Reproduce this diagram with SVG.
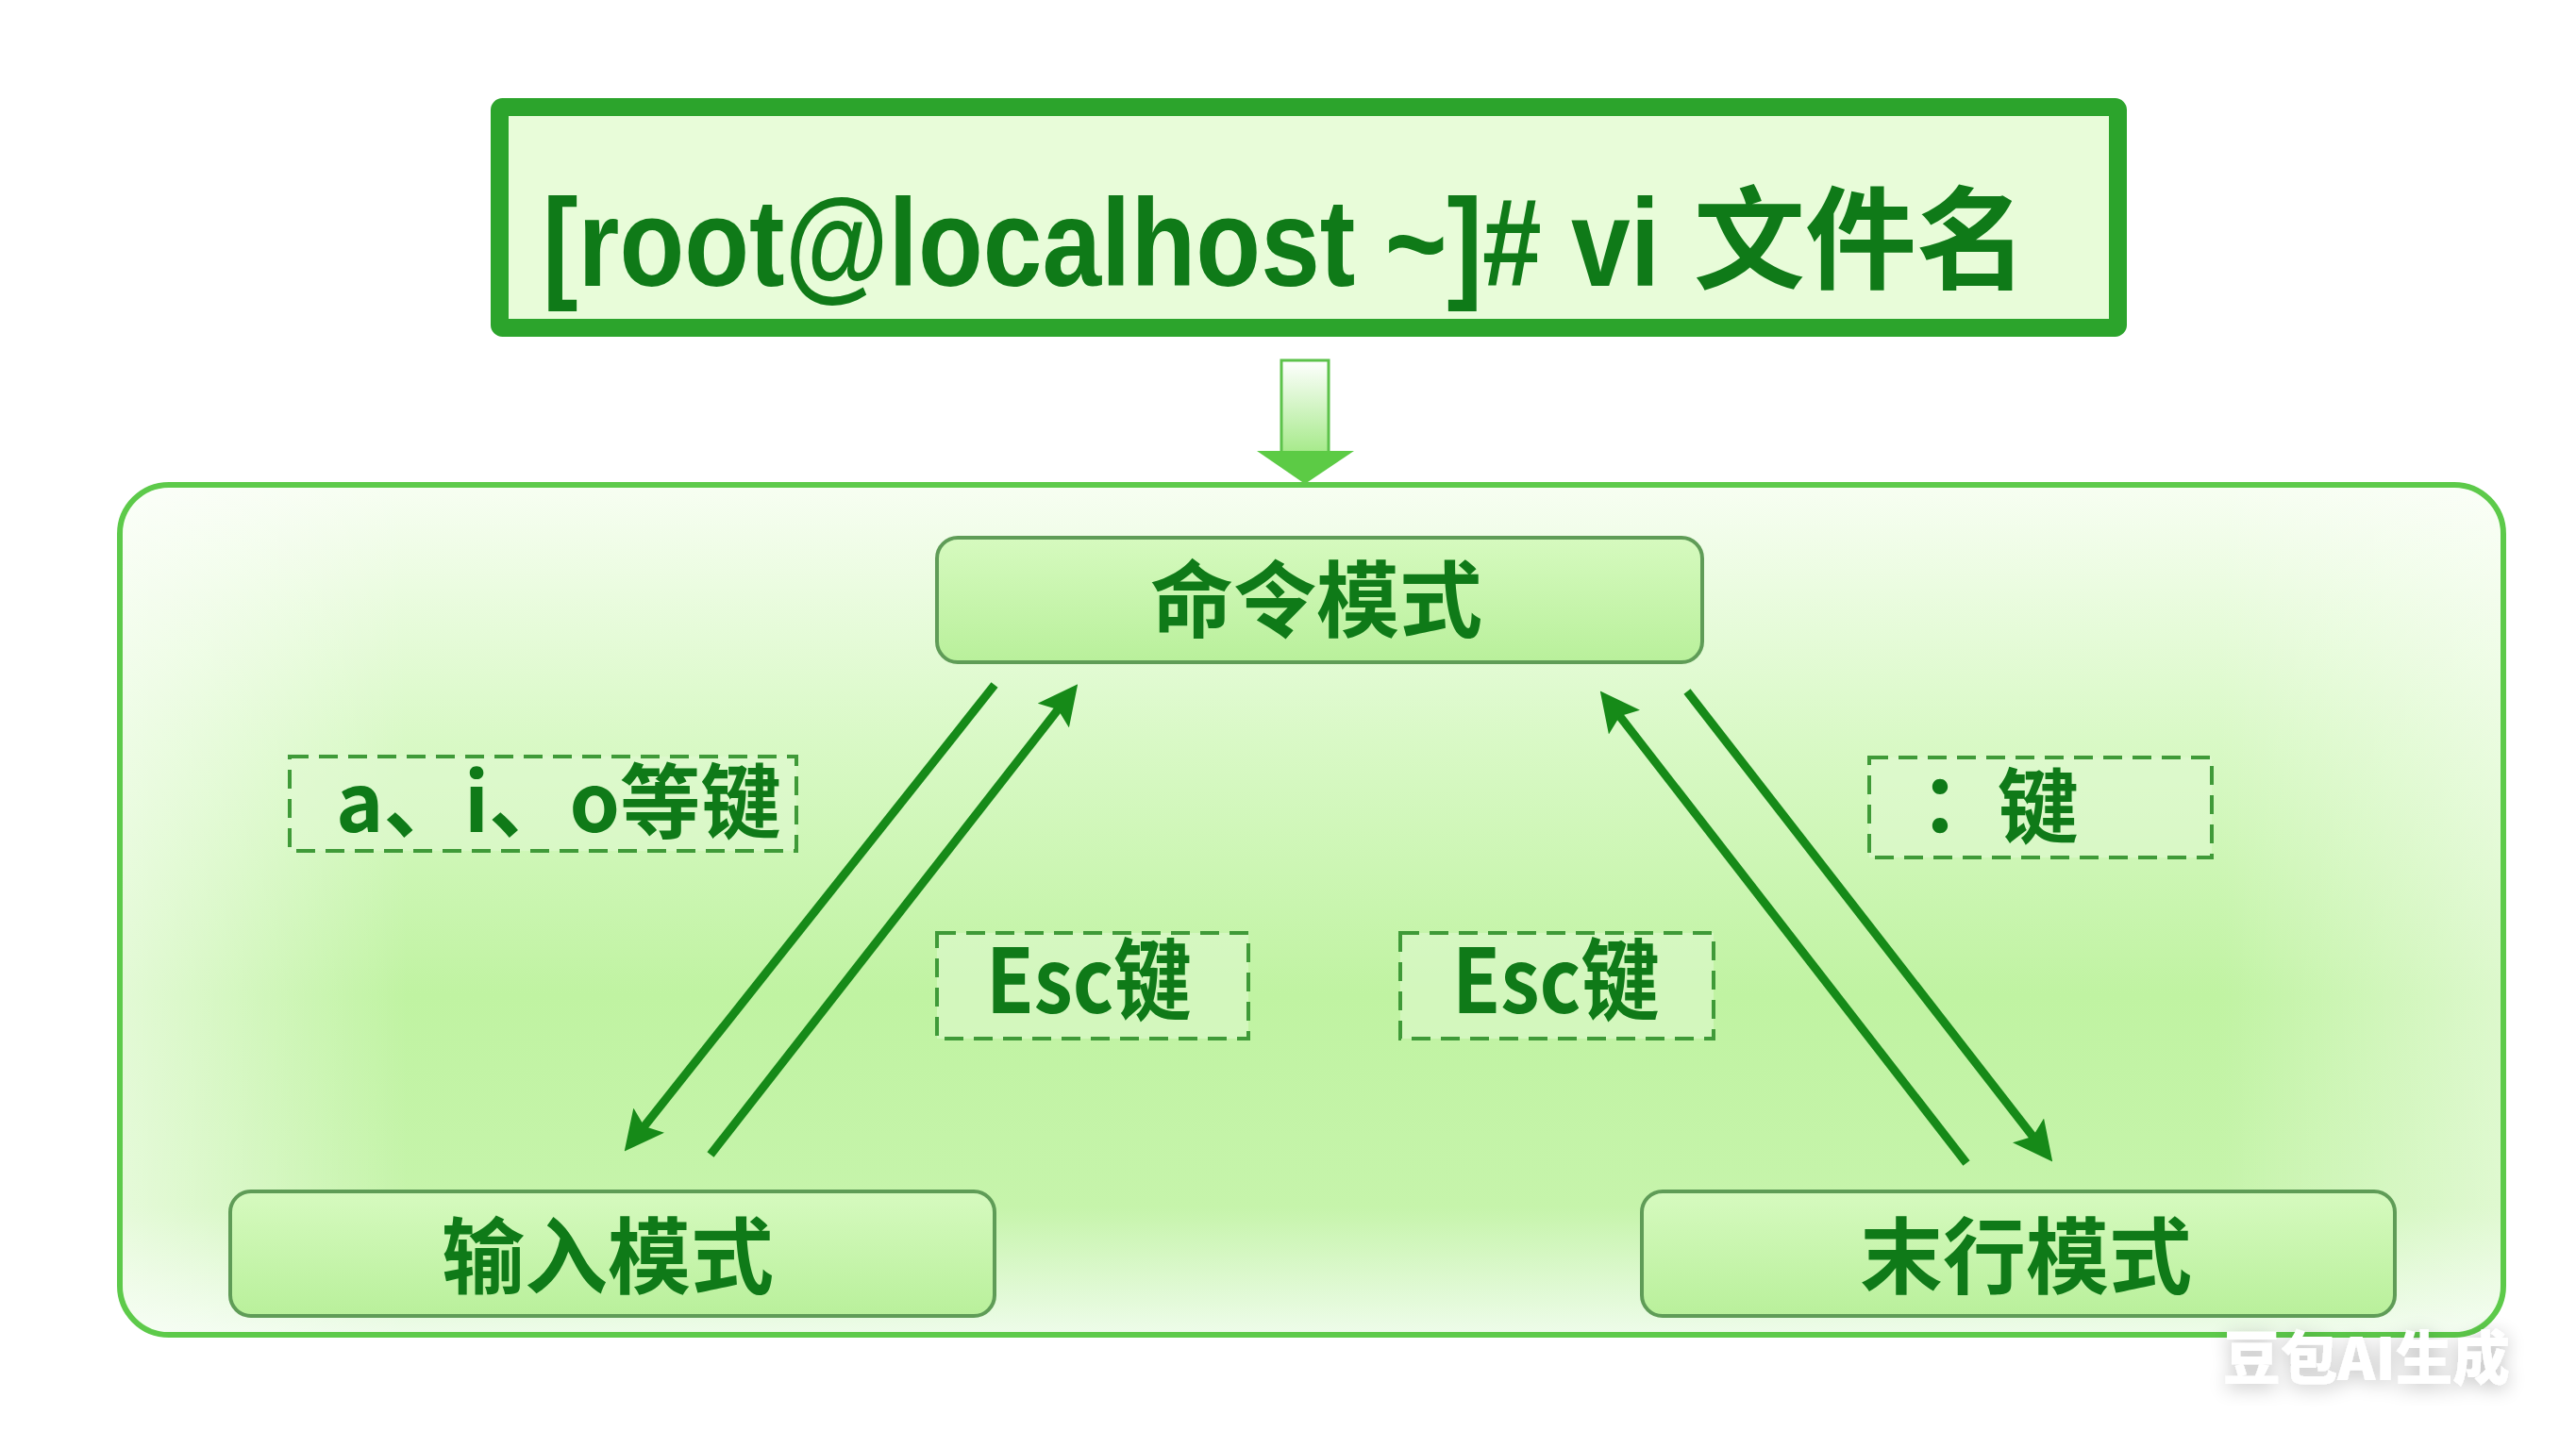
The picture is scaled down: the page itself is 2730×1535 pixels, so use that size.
<svg xmlns="http://www.w3.org/2000/svg" width="2730" height="1535" viewBox="0 0 2730 1535">
<style>
.cjk{font-family:"Noto Sans CJK SC","Noto Sans",sans-serif;font-weight:700;fill:#0f7a18}
.node rect{stroke:#5f9c57;stroke-width:4;fill:url(#nodeFill)}
.lbl rect{stroke:#3f9a38;stroke-width:4;stroke-dasharray:20 11;fill:#e2fad3;fill-opacity:0.55}
.conn line{stroke:#168a18;stroke-width:9;marker-end:url(#ah)}
</style>
<defs>
<linearGradient id="bigFill" x1="0" y1="0" x2="0" y2="1">
<stop offset="0" stop-color="#f7fef2"/>
<stop offset="0.3" stop-color="#d9f9c6"/>
<stop offset="0.6" stop-color="#c0f3a2"/>
<stop offset="0.85" stop-color="#c6f4ab"/>
<stop offset="1" stop-color="#eefcea"/>
</linearGradient>
<linearGradient id="sideFade" x1="0" y1="0" x2="1" y2="0">
<stop offset="0" stop-color="#ffffff" stop-opacity="0.55"/>
<stop offset="0.12" stop-color="#ffffff" stop-opacity="0"/>
<stop offset="0.88" stop-color="#ffffff" stop-opacity="0"/>
<stop offset="1" stop-color="#ffffff" stop-opacity="0.45"/>
</linearGradient>
<linearGradient id="nodeFill" x1="0" y1="0" x2="0" y2="1">
<stop offset="0" stop-color="#d6fabf"/>
<stop offset="1" stop-color="#b9f09b"/>
</linearGradient>
<linearGradient id="shaft" x1="0" y1="0" x2="0" y2="1">
<stop offset="0" stop-color="#ffffff"/>
<stop offset="1" stop-color="#a6ea8a"/>
</linearGradient>
<marker id="ah" markerUnits="userSpaceOnUse" viewBox="0 0 42 42" markerWidth="42" markerHeight="42" refX="10" refY="21" orient="auto">
<path d="M0,0 L42,21 L0,42 L8,21 Z" fill="#168a18"/>
</marker>
<filter id="wmShadow" x="-20%" y="-40%" width="140%" height="180%">
<feGaussianBlur in="SourceAlpha" stdDeviation="10"/>
<feOffset dx="0" dy="4"/>
<feComponentTransfer><feFuncA type="linear" slope="0.25"/></feComponentTransfer>
<feMerge><feMergeNode/><feMergeNode in="SourceGraphic"/></feMerge>
</filter>
</defs>
<rect width="2730" height="1535" fill="#ffffff"/>

<g id="cmd-box">
<rect x="529.5" y="113.5" width="1715" height="234" fill="#e8fcd9" stroke="#2ca42c" stroke-width="19" rx="3"/>
<text transform="translate(575,303) scale(0.854,1)" x="0" y="0" font-family="'Liberation Sans',Arial,sans-serif" font-weight="700" font-size="132" fill="#0f7a18">[root@localhost ~]# vi</text>
<text x="1795" y="297" class="cjk" font-size="118">文件名</text>
</g>

<g id="down-arrow">
<rect x="1358" y="382" width="50" height="98" fill="url(#shaft)" stroke="#5cc24a" stroke-width="3"/>
<polygon points="1332,478 1435,478 1383,513" fill="#5ccb45"/>
</g>

<g id="container">
<rect x="127" y="514" width="2526" height="901" rx="52" fill="url(#bigFill)" stroke="#5dca4a" stroke-width="6"/>
<rect x="130" y="517" width="2520" height="895" rx="50" fill="url(#sideFade)"/>
</g>

<g id="connectors" class="conn">
<line x1="1054" y1="726" x2="681.6" y2="1195.5"/>
<line x1="753" y1="1224" x2="1122.5" y2="750.6"/>
<line x1="2084" y1="1233" x2="1715.4" y2="757.7"/>
<line x1="1788" y1="733" x2="2155.6" y2="1206.3"/>
</g>

<g id="node-command" class="node">
<rect x="993" y="570" width="811" height="132" rx="22"/>
<text x="1395" y="668" class="cjk" font-size="88" text-anchor="middle">命令模式</text>
</g>
<g id="node-input" class="node">
<rect x="244" y="1263" width="810" height="132" rx="22"/>
<text x="644" y="1364" class="cjk" font-size="88" text-anchor="middle">输入模式</text>
</g>
<g id="node-lastline" class="node">
<rect x="1740" y="1263" width="798" height="132" rx="22"/>
<text x="2147" y="1364" class="cjk" font-size="88" text-anchor="middle">末行模式</text>
</g>

<g id="label-aio" class="lbl">
<rect x="307" y="802" width="537" height="100"/>
<text x="356" y="882" class="cjk" font-size="86" textLength="472" lengthAdjust="spacingAndGlyphs">a、i、o等键</text>
</g>
<g id="label-colon" class="lbl">
<rect x="1981" y="803" width="363" height="106"/>
<text y="887" class="cjk" font-size="86"><tspan x="2013" font-family="'Noto Sans CJK TC',sans-serif">：</tspan><tspan x="2117">键</tspan></text>
</g>
<g id="label-esc-left" class="lbl">
<rect x="993" y="989" width="330" height="112"/>
<text x="1045" y="1074" class="cjk" font-size="94" textLength="218" lengthAdjust="spacingAndGlyphs">Esc键</text>
</g>
<g id="label-esc-right" class="lbl">
<rect x="1484" y="989" width="332" height="112"/>
<text x="1539" y="1074" class="cjk" font-size="94" textLength="220" lengthAdjust="spacingAndGlyphs">Esc键</text>
</g>

<g id="watermark" filter="url(#wmShadow)">
<text x="2356" y="1463" font-family="'Noto Sans CJK SC',sans-serif" font-weight="900" font-size="62" fill="#ffffff" textLength="304" lengthAdjust="spacingAndGlyphs">豆包AI生成</text>
</g>
</svg>
